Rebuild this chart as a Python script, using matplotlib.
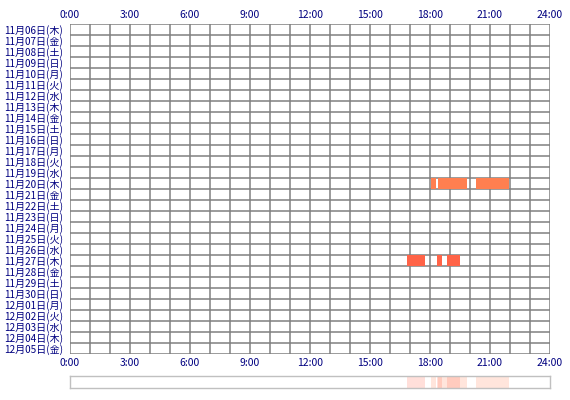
import matplotlib
matplotlib.use("Agg")
import matplotlib.pyplot as plt
import numpy as np

plt.rcParams['font.family'] = ['Noto Sans CJK JP', 'DejaVu Sans']

# data
days = ['11月06日(木)', '11月07日(金)', '11月08日(土)', '11月09日(日)', '11月10日(月)',
        '11月11日(火)', '11月12日(水)', '11月13日(木)', '11月14日(金)', '11月15日(土)',
        '11月16日(日)', '11月17日(月)', '11月18日(火)', '11月19日(水)', '11月20日(木)',
        '11月21日(金)', '11月22日(土)', '11月23日(日)', '11月24日(月)', '11月25日(火)',
        '11月26日(水)', '11月27日(木)', '11月28日(金)', '11月29日(土)', '11月30日(日)',
        '12月01日(月)', '12月02日(火)', '12月03日(水)', '12月04日(木)', '12月05日(金)']
hour_ticks = [0, 3, 6, 9, 12, 15, 18, 21, 24]
hour_labels = ['0:00', '3:00', '6:00', '9:00', '12:00', '15:00', '18:00', '21:00', '24:00']

# active periods (start hour, end hour) per day
seg_day = ['11月20日(木)', '11月20日(木)', '11月20日(木)',
           '11月27日(木)', '11月27日(木)', '11月27日(木)']
seg_start = [18.03, 18.40, 20.30, 16.87, 18.37, 18.87]
seg_end = [18.28, 19.85, 21.95, 17.73, 18.60, 19.50]
seg_color = ['#FF7F50', '#FF7F50', '#FF7F50', '#FF6347', '#FF6347', '#FF6347']

W, H = 570, 400
fig = plt.figure(figsize=(W / 100, H / 100), dpi=100)
ax = fig.add_axes([70 / W, (H - 354) / H, 480 / W, 330 / H])

n = len(days)
ax.set_xlim(0, 24)
ax.set_ylim(n, 0)

for h in range(25):
    ax.axvline(h, color='#808080', lw=1.1, zorder=1)
for r in range(n + 1):
    ax.axhline(r, color='#808080', lw=1.1, zorder=1)

for d, s, e, c in zip(seg_day, seg_start, seg_end, seg_color):
    i = days.index(d)
    ax.barh(i + 0.5, e - s, left=s, height=0.92, color=c, zorder=2, lw=0)

for sp in ax.spines.values():
    sp.set_visible(False)

ax.set_xticks(hour_ticks)
ax.set_xticklabels(hour_labels)
ax.tick_params(axis='x', length=0, labelsize=7.5, labelcolor='#000080',
               top=True, labeltop=True, pad=3)
ax.set_yticks(np.arange(n) + 0.5)
ax.set_yticklabels(days)
ax.tick_params(axis='y', length=0, labelsize=7.2, labelcolor='#000080', pad=5)

# summary strip
ax2 = fig.add_axes([70 / W, (H - 388) / H, 480 / W, 12 / H])
ax2.set_xlim(0, 24)
ax2.set_ylim(0, 1)
for s, e, c in zip(seg_start, seg_end, seg_color):
    ax2.axvspan(s, e, color=c, alpha=0.2, lw=0)
ax2.set_xticks([])
ax2.set_yticks([])
for sp in ax2.spines.values():
    sp.set_color('#c0c0c0')
    sp.set_linewidth(1.0)

fig.savefig('out.png', dpi=100)
